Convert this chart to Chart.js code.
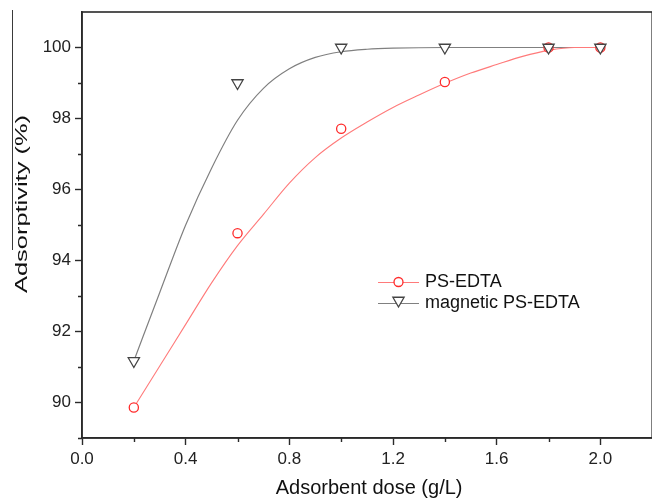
<!DOCTYPE html>
<html>
<head>
<meta charset="utf-8">
<script src="https://cdn.jsdelivr.net/npm/chart.js@4/dist/chart.umd.min.js"></script>
<style>
  html, body { margin: 0; padding: 0; background: #ffffff; overflow: hidden; }
  #wrap { position: absolute; left: 0; top: 0; width: 660px; height: 498px; }
</style>
</head>
<body>
<div id="wrap"><canvas id="chart" width="660" height="498"></canvas></div>
<script>
// Adsorbent dose (g/L) at which adsorptivity was measured
const doses = [0.2, 0.6, 1.0, 1.4, 1.8, 2.0];
// Measured adsorptivity (%)
const psEdta = [89.86, 94.77, 97.71, 99.03, 100, 100];
const magneticPsEdta = [91.17, 99.0, 100, 100, 100, 100];

// Fitted curves
const psFitX = [0.2, 0.3, 0.4, 0.5, 0.6, 0.7, 0.8, 0.9, 1.0, 1.1, 1.2, 1.3, 1.4, 1.5, 1.6, 1.7, 1.8, 1.9, 2.0];
const psFitY = [89.86, 91.03, 92.2, 93.37, 94.42, 95.3, 96.18, 96.9, 97.45, 97.9, 98.31, 98.66, 98.99, 99.28, 99.52, 99.75, 99.92, 100, 100];
const magFitX = [0.2, 0.3, 0.4, 0.5, 0.6, 0.7, 0.8, 0.9, 1.0, 1.1, 1.2, 1.4, 1.6, 1.8, 2.0];
const magFitY = [91.17, 93.1, 95.0, 96.6, 97.95, 98.85, 99.4, 99.72, 99.88, 99.95, 99.98, 100, 100, 100, 100];

// Axis ticks
const xTicks = [0.0, 0.4, 0.8, 1.2, 1.6, 2.0];
const xMinorTicks = [0.2, 0.6, 1.0, 1.4, 1.8];
const yTicks = [90, 92, 94, 96, 98, 100];
const yMinorTicks = [89, 91, 93, 95, 97, 99];

const seriesNames = ['PS-EDTA', 'magnetic PS-EDTA'];
const xTitle = 'Adsorbent dose (g/L)';
const yTitle = 'Adsorptivity (%)';

const FONT = '"Liberation Sans", Arial, Helvetica, sans-serif';
const AXIS = '#2a2a2a';
const RED = '#ff2b2b';
const RED_LINE = '#ff7a7a';
const GREY = '#444444';
const GREY_LINE = '#808080';

const pairs = (xs, ys) => xs.map((x, i) => ({ x: x, y: ys[i] }));

// Frame, minor ticks, axis titles, legend and the thin rule at the left edge
const decorations = {
  id: 'decorations',
  afterDraw(chart) {
    const ctx = chart.ctx;
    const a = chart.chartArea;
    const xs = chart.scales.x, ys = chart.scales.y;
    ctx.save();

    // plot frame
    ctx.strokeStyle = AXIS;
    ctx.lineWidth = 1.6;
    ctx.strokeRect(a.left, a.top, a.right - a.left, a.bottom - a.top);

    // minor ticks
    ctx.lineWidth = 1.4;
    ctx.beginPath();
    xMinorTicks.forEach(v => {
      const px = Math.round(xs.getPixelForValue(v)) + 0.5;
      ctx.moveTo(px, a.bottom);
      ctx.lineTo(px, a.bottom + 4);
    });
    yMinorTicks.forEach(v => {
      const py = Math.round(ys.getPixelForValue(v)) + 0.5;
      ctx.moveTo(a.left, py);
      ctx.lineTo(a.left - 4, py);
    });
    ctx.stroke();

    // left rule
    ctx.strokeStyle = '#3a3a3a';
    ctx.lineWidth = 1;
    ctx.beginPath();
    ctx.moveTo(12.5, 10);
    ctx.lineTo(12.5, 250);
    ctx.stroke();

    // x title
    ctx.fillStyle = '#111111';
    ctx.font = '20px ' + FONT;
    ctx.textAlign = 'center';
    ctx.textBaseline = 'alphabetic';
    ctx.fillText(xTitle, (a.left + a.right) / 2 + 2, 494);

    // y title
    ctx.font = '17px ' + FONT;
    const w = ctx.measureText(yTitle).width;
    ctx.translate(27, 204);
    ctx.rotate(-Math.PI / 2);
    ctx.scale(178 / w, 1);
    ctx.fillText(yTitle, 0, 0);
    ctx.setTransform(1, 0, 0, 1, 0, 0);

    // legend
    const rows = [
      { y: 282, line: RED_LINE, stroke: RED, style: 'circle', r: 4.5, rot: 0 },
      { y: 303, line: GREY_LINE, stroke: GREY, style: 'triangle', r: 6.5, rot: 180 }
    ];
    rows.forEach((row, i) => {
      ctx.strokeStyle = row.line;
      ctx.lineWidth = 1.2;
      ctx.beginPath();
      ctx.moveTo(378, row.y + 0.5);
      ctx.lineTo(419, row.y + 0.5);
      ctx.stroke();
      ctx.fillStyle = '#ffffff';
      ctx.strokeStyle = row.stroke;
      ctx.lineWidth = 1.3;
      Chart.helpers.drawPoint(ctx, { pointStyle: row.style, radius: row.r, rotation: row.rot, borderWidth: 1.3 },
        398.5, row.style === 'triangle' ? row.y - 2.5 : row.y);
      ctx.fillStyle = '#111111';
      ctx.font = '18px ' + FONT;
      ctx.textAlign = 'left';
      ctx.textBaseline = 'middle';
      ctx.fillText(seriesNames[i], 425, row.y);
    });

    ctx.restore();
  }
};

new Chart(document.getElementById('chart'), {
  type: 'scatter',
  data: {
    datasets: [
      {
        label: seriesNames[1],
        data: pairs(doses, magneticPsEdta),
        showLine: false,
        pointStyle: 'triangle',
        rotation: 180,
        pointRadius: 6.5,
        pointBorderWidth: 1.3,
        pointBorderColor: GREY,
        pointBackgroundColor: '#ffffff',
        order: 0
      },
      {
        label: seriesNames[0],
        data: pairs(doses, psEdta),
        showLine: false,
        pointStyle: 'circle',
        pointRadius: 4.6,
        pointBorderWidth: 1.3,
        pointBorderColor: RED,
        pointBackgroundColor: '#ffffff',
        order: 1
      },
      {
        label: seriesNames[0] + ' fit',
        data: pairs(psFitX, psFitY),
        showLine: true,
        pointRadius: 0,
        borderColor: RED_LINE,
        borderWidth: 1.1,
        cubicInterpolationMode: 'monotone',
        order: 2
      },
      {
        label: seriesNames[1] + ' fit',
        data: pairs(magFitX, magFitY),
        showLine: true,
        pointRadius: 0,
        borderColor: GREY_LINE,
        borderWidth: 1.2,
        cubicInterpolationMode: 'monotone',
        order: 3
      }
    ]
  },
  options: {
    responsive: false,
    animation: false,
    devicePixelRatio: 1,
    layout: { padding: { top: 12, right: 6, left: 0, bottom: 0 } },
    plugins: { legend: { display: false }, tooltip: { enabled: false } },
    scales: {
      x: {
        type: 'linear',
        min: 0,
        max: 2.2,
        afterBuildTicks: s => { s.ticks = xTicks.map(v => ({ value: v })); },
        afterFit: s => { s.height = 60; s.paddingLeft = 0; s.paddingRight = 0; },
        ticks: {
          color: '#222222',
          font: { family: FONT, size: 17 },
          padding: 4,
          maxRotation: 0,
          autoSkip: false,
          callback: v => Number(v).toFixed(1)
        },
        grid: { drawOnChartArea: false, drawTicks: true, tickLength: 7, tickWidth: 1.4, tickColor: AXIS },
        border: { color: AXIS, width: 1.6 }
      },
      y: {
        type: 'linear',
        min: 89,
        max: 101,
        afterBuildTicks: s => { s.ticks = yTicks.map(v => ({ value: v })); },
        afterFit: s => { s.width = 82; s.paddingTop = 0; s.paddingBottom = 0; },
        ticks: {
          color: '#222222',
          font: { family: FONT, size: 17 },
          padding: 4,
          autoSkip: false,
          callback: v => String(v)
        },
        grid: { drawOnChartArea: false, drawTicks: true, tickLength: 7, tickWidth: 1.4, tickColor: AXIS },
        border: { color: AXIS, width: 1.6 }
      }
    }
  },
  plugins: [decorations]
});
</script>
</body>
</html>
